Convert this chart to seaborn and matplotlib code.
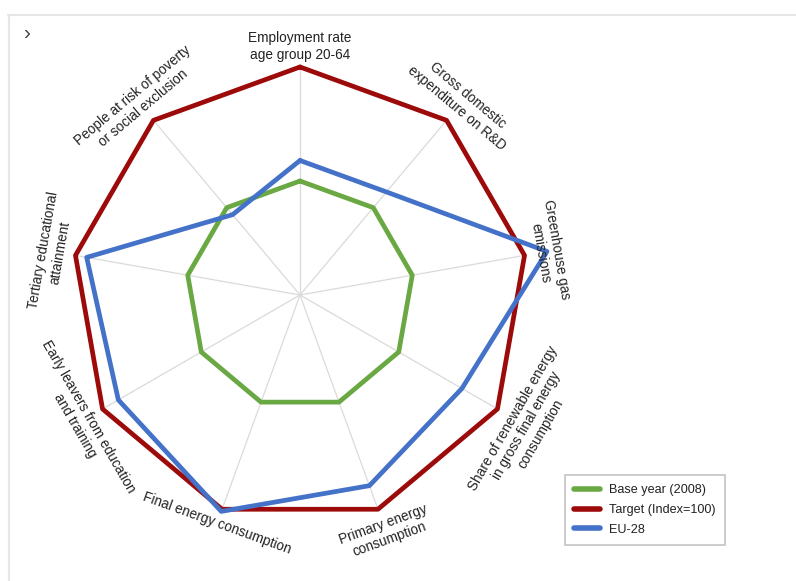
import numpy as np
import pandas as pd
import seaborn as sns
import matplotlib.pyplot as plt
from matplotlib.lines import Line2D

# indicators, clockwise from the top
indicators = [
    "Employment rate\nage group 20-64",
    "Gross domestic\nexpenditure on R&D",
    "Greenhouse gas\nemissions",
    "Share of renewable energy\nin gross final energy\nconsumption",
    "Primary energy\nconsumption",
    "Final energy consumption",
    "Early leavers from education\nand training",
    "Tertiary educational\nattainment",
    "People at risk of poverty\nor social exclusion",
]
base_year = [50, 50, 50, 50, 50, 50, 50, 50, 50]
target = [100, 100, 100, 100, 100, 100, 100, 100, 100]
eu28 = [59, 59, 110, 82, 89, 101, 92, 95, 46]

series_names = ["Base year (2008)", "Target (Index=100)", "EU-28"]
series_values = [base_year, target, eu28]
series_colors = ["#6aa843", "#9c0a0a", "#4472c8"]

sns.set_style("white")
plt.rcParams['font.family'] = ['Liberation Sans', 'DejaVu Sans']

n = len(indicators)
angles = np.linspace(0, 2 * np.pi, n, endpoint=False)

rows = []
for name, vals in zip(series_names, series_values):
    for i in list(range(n)) + [0]:
        rows.append({"series": name, "theta": angles[i], "value": vals[i]})
df = pd.DataFrame(rows)

fig = plt.figure(figsize=(7.96, 5.81), dpi=100)
ax = fig.add_axes([72 / 796, 58 / 581, 456 / 796, 456 / 581], projection='polar')
ax.set_theta_zero_location('N')
ax.set_theta_direction(-1)

# spokes
for a in angles:
    ax.plot([a, a], [0, 100], color='#dadada', linewidth=0.9, zorder=1)

for name, color in zip(series_names, series_colors):
    sub = df[df["series"] == name]
    sns.lineplot(data=sub, x="theta", y="value", sort=False, color=color,
                 linewidth=3.4, ax=ax, label=name, zorder=3, estimator=None)

for line in ax.get_lines():
    line.set_clip_on(False)

ax.set_ylim(0, 100)
ax.grid(False)
ax.spines['polar'].set_visible(False)
ax.set_xticks([])
ax.set_yticks([])
ax.set_xlabel("")
ax.set_ylabel("")
ax.legend_.remove()

# tangential labels
for a, lab in zip(angles, indicators):
    deg = np.degrees(a)
    nlines = lab.count("\n") + 1
    r = 102 + nlines * 4.3
    if deg == 0:
        r -= 1.6
    rot = -deg if (deg <= 90 or deg >= 270) else 180 - deg
    ax.text(a, r, lab, rotation=rot, rotation_mode='anchor', ha='center', va='center',
            multialignment='center', fontsize=9.8, color='#222222', linespacing=1.2)

handles = [Line2D([0], [0], color=c, linewidth=4) for c in series_colors]
leg = fig.legend(handles, series_names, loc='upper left', bbox_to_anchor=(565 / 796, 1 - 475 / 581),
                 borderaxespad=0, fontsize=9.1, frameon=True, fancybox=False, edgecolor='#c4c4c4',
                 framealpha=1, handlelength=2.0, handletextpad=0.75, labelspacing=0.6, borderpad=0.75)
leg.get_frame().set_linewidth(1.2)
for t in leg.get_texts():
    t.set_color('#222222')

# outer frame of the panel
fig.add_artist(Line2D([8 / 796, 1], [1 - 15 / 581, 1 - 15 / 581], color='#e6e6e6', linewidth=1.5))
fig.add_artist(Line2D([9 / 796, 9 / 796], [0, 1 - 15 / 581], color='#e6e6e6', linewidth=1.5))
fig.text(23 / 796, 1 - 33 / 581, "\u203a", fontsize=15, color='#444444', va='center', ha='left')

fig.savefig("out.png", dpi=100)
